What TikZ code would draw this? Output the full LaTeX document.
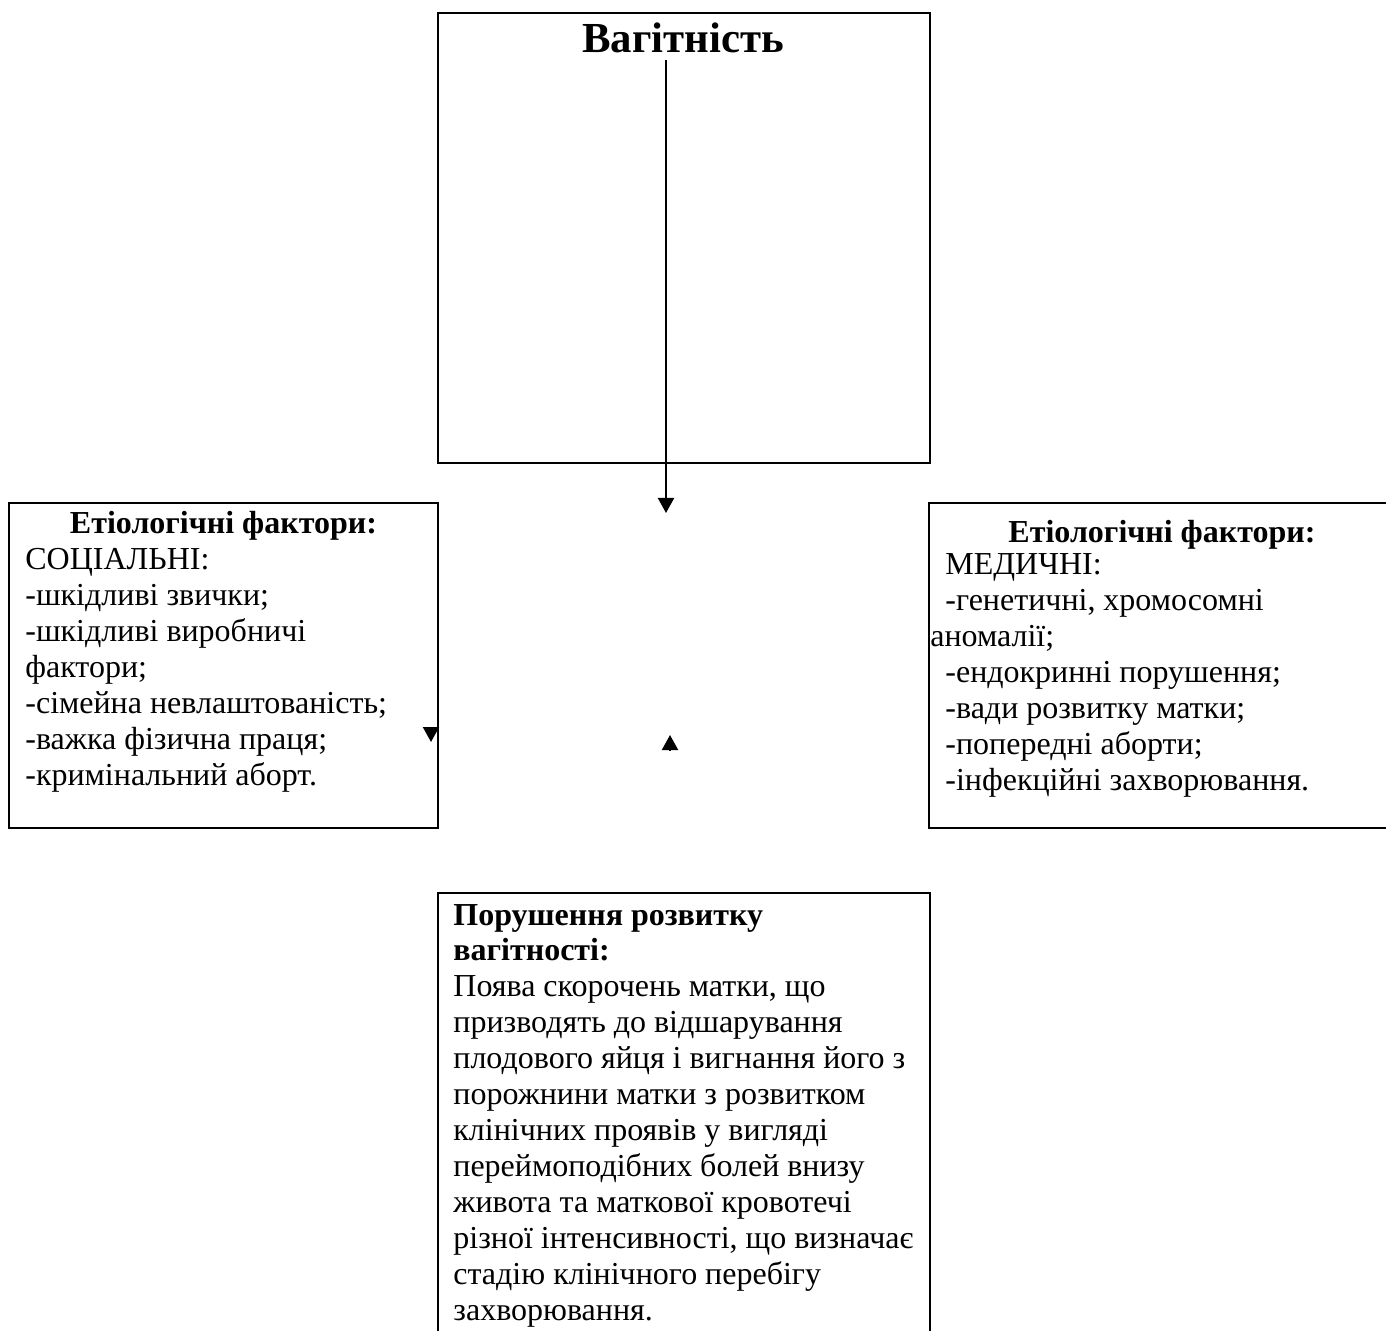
\documentclass[tikz,border=0pt]{standalone}
\usepackage{fontspec}
\setmainfont{Liberation Serif}
\usetikzlibrary{arrows.meta,calc}

\begin{document}
\begin{tikzpicture}[x=0.5pt,y=-0.5pt,->,>={Triangle[width=8pt,length=7.5pt]},
  box node/.style={draw,line width=1.3pt,rectangle,inner sep=0pt},
  text node/.style={inner sep=0pt,align=left,anchor=base west,font=\fontsize{16}{18}\selectfont},
  head node/.style={inner sep=0pt,anchor=base,font=\fontsize{16}{18}\selectfont\bfseries},
  every edge/.style={draw,line width=1pt}]

\useasboundingbox (0,0) rectangle (1386,1331);

% boxes
\node[box node,minimum width=246pt,minimum height=225pt](P) at (684,238) {};
\node[box node,minimum width=214.5pt,minimum height=162.5pt](S) at (223.5,665.5) {};
\node[box node,minimum width=233pt,minimum height=162.5pt](M) at (1162,665.5) {};
\node[box node,minimum width=246pt,minimum height=226pt](D) at (684,1119) {};

% texts (multi-line nodes sit on their last baseline)
\node[head node,font=\fontsize{21.4}{25}\selectfont\bfseries](P title) at (683,53) {Вагітність};

\node[head node](S title) at (223.5,533) {Етіологічні фактори:};
\node[text node](S list) at (25,785) {СОЦІАЛЬНІ:\\-шкідливі звички;\\-шкідливі виробничі\\фактори;\\-сімейна невлаштованість;\\-важка фізична праця;\\-кримінальний аборт.};

\node[head node](M title) at (1162,543) {Етіологічні фактори:};
\node[text node](M list) at (930,790) {\hspace*{7.5pt}МЕДИЧНІ:\\\hspace*{7.5pt}-генетичні, хромосомні\\аномалії;\\\hspace*{7.5pt}-ендокринні порушення;\\\hspace*{7.5pt}-вади розвитку матки;\\\hspace*{7.5pt}-попередні аборти;\\\hspace*{7.5pt}-інфекційні захворювання.};

\node[text node,font=\fontsize{16}{17.5}\selectfont\bfseries](D title) at (453,960) {Порушення розвитку\\вагітності:};
\node[text node](D list) at (453,1320) {Поява скорочень матки, що\\призводять до відшарування\\плодового яйця і вигнання його з\\порожнини матки з розвитком\\клінічних проявів у вигляді\\переймоподібних болей внизу\\живота та маткової кровотечі\\різної інтенсивності, що визначає\\стадію клінічного перебігу\\захворювання.};

% arrows
\coordinate (P top) at (666,60);
\coordinate (P end) at (666,513);
\coordinate (S tail) at (431,727);
\coordinate (S tip) at (431,742);
\coordinate (D tail) at (670,750);
\coordinate (D tip) at (670,735);

\path
(P top) edge (P end)
(S tail) edge (S tip)
(D tail) edge (D tip);

\end{tikzpicture}
\end{document}
